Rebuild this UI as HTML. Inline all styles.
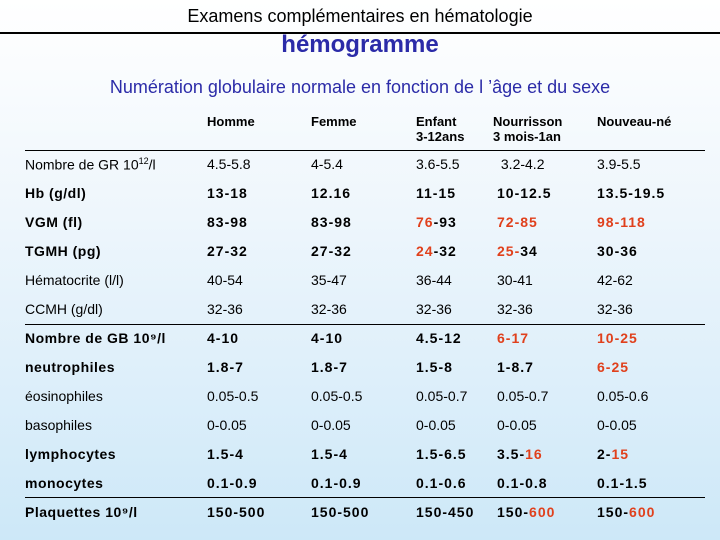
<!DOCTYPE html>
<html><head><meta charset="utf-8"><style>
body{margin:0}
#s{position:relative;width:720px;height:540px;overflow:hidden;background:linear-gradient(#ffffff 0%,#eef6fc 40%,#cde8f8 100%);font-family:"Liberation Sans",sans-serif;color:#000}
.t{position:absolute;white-space:nowrap;line-height:1}
.c{font-size:14px}
.b{font-weight:bold;letter-spacing:1px}
.r{color:#e0401c}
.ln{position:absolute;background:#000}
.h{font-weight:bold;font-size:13px;line-height:15px}
</style></head><body>
<div id="s">
<div class="t" style="left:0;width:720px;text-align:center;top:7px;font-size:18px">Examens complémentaires en hématologie</div>
<div class="ln" style="left:0;top:32px;width:720px;height:2px"></div>
<div class="t" style="left:0;width:720px;text-align:center;top:33px;font-size:24px;font-weight:bold;color:#2b2ba8">hémogramme</div>
<div class="t" style="left:0;width:720px;text-align:center;top:78px;font-size:18px;color:#2b2ba8">Numération globulaire normale en fonction de l ’âge et du sexe</div>
<div class="t h" style="left:207px;top:114px">Homme</div>
<div class="t h" style="left:311px;top:114px">Femme</div>
<div class="t h" style="left:416px;top:114px">Enfant<br>3-12ans</div>
<div class="t h" style="left:493px;top:114px">Nourrisson<br>3 mois-1an</div>
<div class="t h" style="left:597px;top:114px">Nouveau-né</div>
<div class="ln" style="left:25px;top:150px;width:680px;height:1px"></div>
<div class="ln" style="left:25px;top:324px;width:680px;height:1px"></div>
<div class="ln" style="left:25px;top:497px;width:680px;height:1px"></div>
<div id="rows"></div>
</div>
<script>
const labels=["Nombre de GR 10<sup style='font-size:9px'>12</sup>/l","Hb (g/dl)","VGM (fl)","TGMH (pg)","Hématocrite (l/l)","CCMH (g/dl)","Nombre de GB 10⁹/l","neutrophiles","éosinophiles","basophiles","lymphocytes","monocytes","Plaquettes 10⁹/l"];
const bold=[0,1,1,1,0,0,1,1,0,0,1,1,1];
const values=[
["4.5-5.8","4-5.4","3.6-5.5","&nbsp;3.2-4.2","3.9-5.5"],
["13-18","12.16","11-15","10-12.5","13.5-19.5"],
["83-98","83-98","<span class=r>76</span>-93","<span class=r>72-85</span>","<span class=r>98-118</span>"],
["27-32","27-32","<span class=r>24</span>-32","<span class=r>25-</span>34","30-36"],
["40-54","35-47","36-44","30-41","42-62"],
["32-36","32-36","32-36","32-36","32-36"],
["4-10","4-10","4.5-12","<span class=r>6-17</span>","<span class=r>10-25</span>"],
["1.8-7","1.8-7","1.5-8","1-8.7","<span class=r>6-25</span>"],
["0.05-0.5","0.05-0.5","0.05-0.7","0.05-0.7","0.05-0.6"],
["0-0.05","0-0.05","0-0.05","0-0.05","0-0.05"],
["1.5-4","1.5-4","1.5-6.5","3.5-<span class=r>16</span>","2-<span class=r>15</span>"],
["0.1-0.9","0.1-0.9","0.1-0.6","0.1-0.8","0.1-1.5"],
["150-500","150-500","150-450","150-<span class=r>600</span>","150-<span class=r>600</span>"]];
const colX=[207,311,416,497,597];
const host=document.getElementById('s');
labels.forEach((lab,i)=>{
  const y=157+i*29;
  const d=document.createElement('div');
  d.className='t c'+(bold[i]?' b':'');
  d.style.left='25px';d.style.top=y+'px';d.style.letterSpacing=bold[i]?'0.5px':'0';
  d.innerHTML=lab;
  
  
  host.appendChild(d);
  values[i].forEach((v,j)=>{
    const e=document.createElement('div');
    e.className='t c'+(bold[i]?' b':'');
    e.style.left=colX[j]+'px';e.style.top=y+'px';
    e.innerHTML=v;
    
    
    host.appendChild(e);
  });
});
</script>
</body></html>
